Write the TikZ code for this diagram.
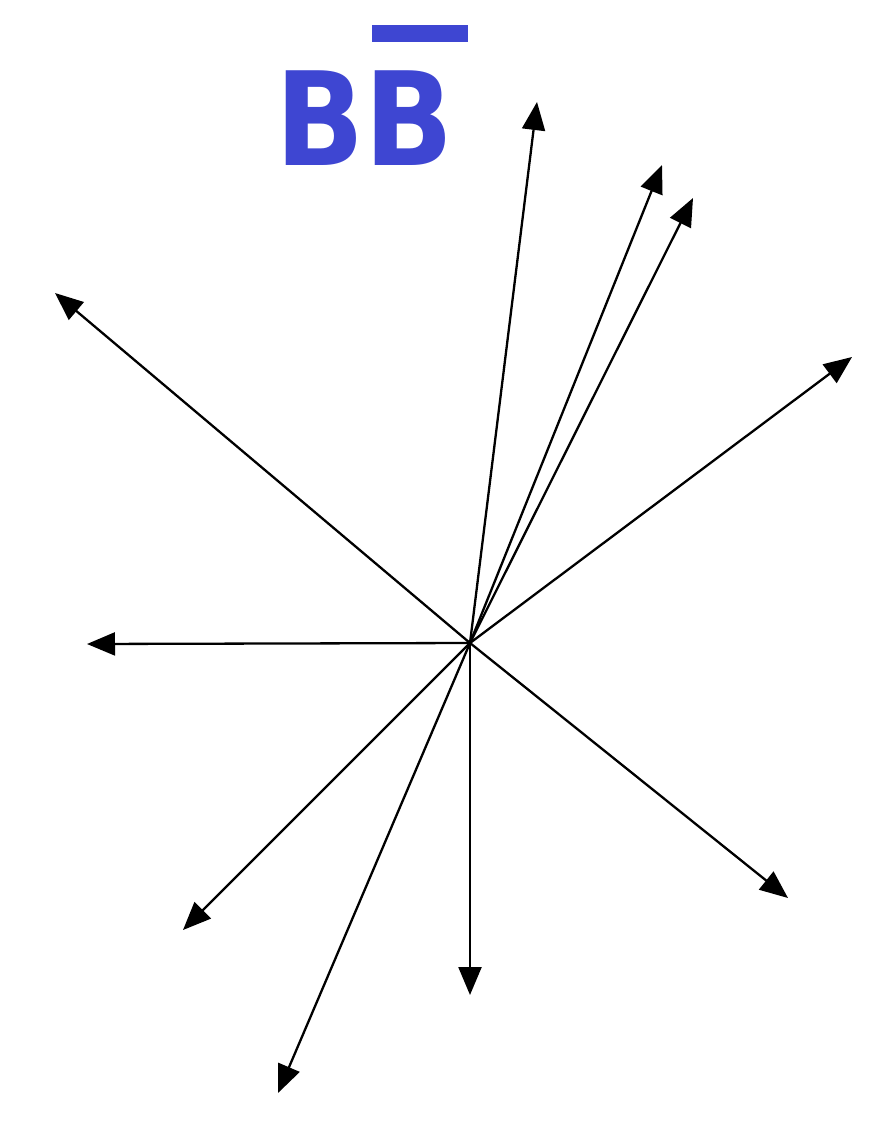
\documentclass[tikz,border=0pt]{standalone}
\usepackage{fontspec}
\newfontfamily\titlefont{DejaVu Sans}
\usetikzlibrary{arrows.meta}
\definecolor{titleblue}{RGB}{62,70,210}
\begin{document}
\begin{tikzpicture}[x=1pt,y=-1pt,
  vec/.style={line width=2.3pt,-{Triangle[length=28pt,width=23pt]}},
  title/.style={text=titleblue,font=\titlefont\bfseries\fontsize{130}{130}\selectfont,inner sep=0pt,anchor=base west,xscale=0.9}]
\useasboundingbox (0,0) rectangle (870,1125);
\fill[white] (0,0) rectangle (870,1125);
\node[title] (t) at (275,165) {BB};
\fill[titleblue] (372,25) rectangle (468,42);
\coordinate (o) at (470,643);
\coordinate (e1) at (537,102);
\coordinate (e2) at (662,165);
\coordinate (e3) at (693,198);
\coordinate (e4) at (852,357);
\coordinate (e5) at (55,293);
\coordinate (e6) at (87,644);
\coordinate (e7) at (183,930);
\coordinate (e8) at (278,1093);
\coordinate (e9) at (470,995);
\coordinate (e10) at (788,898);
\foreach \i in {1,...,10}{\draw[vec] (o) -- (e\i);}
\end{tikzpicture}
\end{document}
